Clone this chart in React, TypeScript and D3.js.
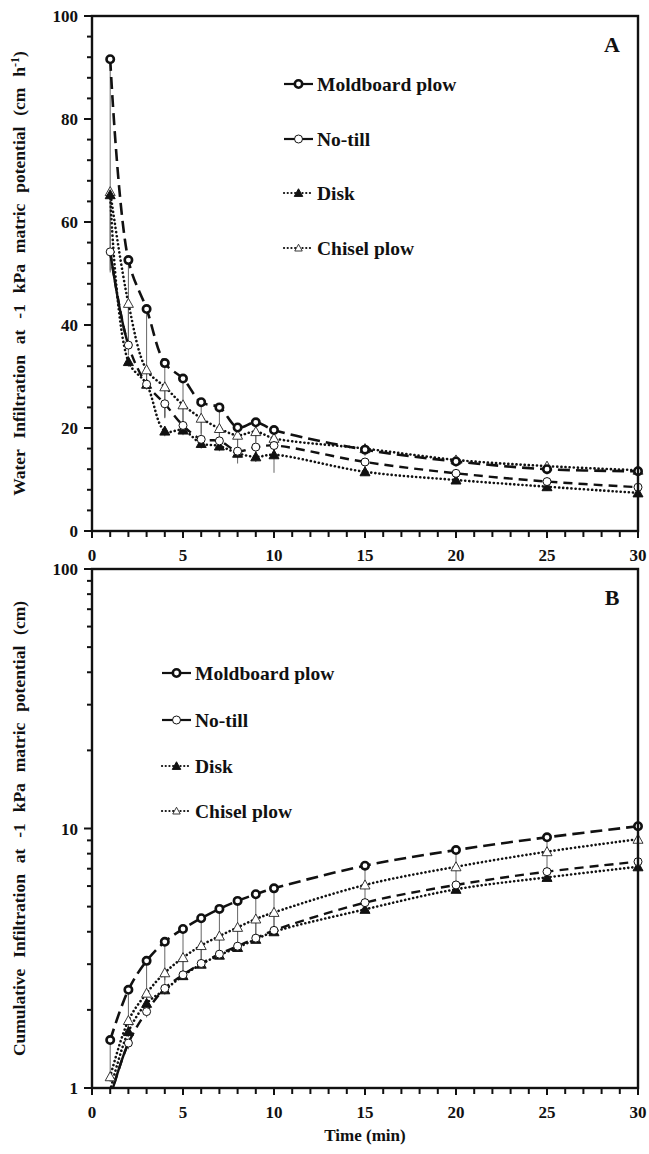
import React from "react";
import * as d3 from "d3";

const times = [1, 2, 3, 4, 5, 6, 7, 8, 9, 10, 15, 20, 25, 30];
const seriesNames = ["Moldboard plow", "No-till", "Disk", "Chisel plow"];

// Panel A: infiltration rate (cm h-1)
const rateMoldboard = [91.6, 52.6, 43.1, 32.6, 29.6, 25.0, 24.0, 20.1, 21.1, 19.6, 15.8, 13.5, 12.0, 11.6];
const rateNoTill = [54.2, 36.1, 28.5, 24.7, 20.5, 17.8, 17.5, 15.5, 16.3, 16.6, 13.4, 11.2, 9.6, 8.5];
const rateDisk = [65.3, 32.9, 28.5, 19.4, 19.6, 17.0, 16.5, 15.1, 14.4, 14.8, 11.5, 9.9, 8.6, 7.4];
const rateChisel = [65.9, 44.2, 31.3, 28.0, 24.5, 21.9, 19.9, 18.6, 19.3, 18.0, 16.0, 13.8, 12.6, 11.8];
const errMoldboardA = [41, 16, 14.4, 10.7, 9.3, 6.7, 6, 4, 4, 2.4, 1.2, 1, 1, 0.8];
const errNoTillA = [4, 2, 1, 2.5, 1.5, 1.5, 1.5, 1.5, 1.5, 1.5, 1, 0.8, 0.8, 0.6];
const errDiskA = [1, 1, 1, 1, 1, 1, 1, 2, 1, 3.5, 0.8, 0.8, 0.8, 0.8];
const errChiselA = [12, 8, 3, 6, 5, 3, 2.5, 2.5, 2, 2, 1, 1, 1, 1];

// Panel B: cumulative infiltration (cm)
const cumMoldboard = [1.53, 2.39, 3.09, 3.66, 4.1, 4.51, 4.9, 5.26, 5.58, 5.88, 7.19, 8.26, 9.25, 10.2];
const cumNoTill = [0.92, 1.49, 1.97, 2.42, 2.73, 3.02, 3.28, 3.52, 3.78, 4.05, 5.18, 6.06, 6.82, 7.45];
const cumDisk = [0.98, 1.65, 2.12, 2.39, 2.71, 3.0, 3.25, 3.48, 3.74, 4.0, 4.88, 5.83, 6.48, 7.12];
const cumChisel = [1.105, 1.82, 2.32, 2.78, 3.18, 3.54, 3.85, 4.16, 4.48, 4.75, 6.06, 7.12, 8.14, 9.09];
const errMoldboardB = [0.43, 0.6, 1.1, 1.06, 1.4, 1.5, 1.65, 1.8, 1.84, 1.9, 1.1, 1.1, 1.1, 1.1];
const errNoTillB = [0.05, 0.08, 0.1, 0.1, 0.1, 0.1, 0.1, 0.1, 0.1, 0.1, 0.15, 0.15, 0.15, 0.15];
const errDiskB = [0.05, 0.08, 0.1, 0.1, 0.1, 0.1, 0.1, 0.1, 0.1, 0.1, 0.15, 0.15, 0.15, 0.15];
const errChiselB = [0.05, 0.2, 0.35, 0.4, 0.45, 0.5, 0.55, 0.6, 0.6, 0.65, 0.9, 1.0, 1.2, 0.6];

const xTicks = [0, 5, 10, 15, 20, 25, 30];
const yTicksA = [0, 20, 40, 60, 80, 100];
const yTicksB = [1, 10, 100];

const FONT = "'Liberation Serif', 'Times New Roman', serif";

type Style = {
  dash: string;
  width: number;
  cap: "butt" | "round";
  marker: "boldCircle" | "circle" | "filledTri" | "openTri";
  solidHead?: boolean;
};
const styles: Style[] = [
  { dash: "12,6", width: 2.6, cap: "butt", marker: "boldCircle" },
  { dash: "9,6", width: 2.4, cap: "butt", marker: "circle", solidHead: true },
  { dash: "0.1,4", width: 2.6, cap: "round", marker: "filledTri" },
  { dash: "0.1,4", width: 2.6, cap: "round", marker: "openTri" },
];

function Marker({ kind, x, y, scale = 1 }: { kind: Style["marker"]; x: number; y: number; scale?: number }) {
  if (kind === "boldCircle")
    return <circle cx={x} cy={y} r={3.7 * scale} fill="#fff" stroke="#111" strokeWidth={2.6} />;
  if (kind === "circle")
    return <circle cx={x} cy={y} r={4 * scale} fill="#fff" stroke="#111" strokeWidth={1} />;
  const s = 5 * scale;
  const pts = `${x},${y - s} ${x + s},${y + s * 0.8} ${x - s},${y + s * 0.8}`;
  if (kind === "filledTri") return <polygon points={pts} fill="#111" stroke="#111" strokeWidth={1} />;
  return <polygon points={pts} fill="#fff" stroke="#222" strokeWidth={0.9} />;
}

const X0 = 92, X1 = 638;

function Panel({
  id, top, bottom, yScale, series, errs, yTicks, minorY, label, legendX, legendY, yTitle,
}: {
  id: string; top: number; bottom: number;
  yScale: any; series: number[][]; errs: number[][]; yTicks: number[]; minorY: number[];
  label: string; legendX: number; legendY: number[]; yTitle: React.ReactNode;
}) {
  const x = d3.scaleLinear().domain([0, 30]).range([X0, X1]);
  const y = yScale;
  const [d0, d1] = y.domain();
  const inRange = (v: number) => v >= Math.min(d0, d1) - 1e-9 && v <= Math.max(d0, d1) + 1e-9;
  const line = d3
    .line<number>()
    .x((_, i) => x(times[i]))
    .y((v) => y(v))
    .curve(d3.curveCatmullRom.alpha(0.5));
  const minorX = d3.range(0, 31, 1).filter((t) => t % 5 !== 0);
  const clipId = `clip-${id}`;
  const headClipId = `clip-head-${id}`;
  return (
    <g>
      <defs>
        <clipPath id={clipId}>
          <rect x={X0} y={top} width={X1 - X0} height={bottom - top} />
        </clipPath>
        <clipPath id={headClipId}>
          <rect x={X0} y={top} width={x(times[1]) - X0} height={bottom - top} />
        </clipPath>
      </defs>
      {/* error bars */}
      <g clipPath={`url(#${clipId})`}>
        {series.map((vals, si) =>
          vals.map((v, i) => {
            const lo = Math.max(v - errs[si][i], 1e-6);
            return (
              <line key={`e${si}-${i}`} x1={x(times[i])} x2={x(times[i])} y1={y(v)} y2={y(lo)} stroke="#666" strokeWidth={1} />
            );
          })
        )}
        {/* lines */}
        {series.map((vals, si) => (
          <path key={`l${si}`} d={line(vals) || ""} fill="none" stroke="#111" strokeWidth={styles[si].width}
            strokeDasharray={styles[si].dash} strokeLinecap={styles[si].cap} />
        ))}
        {series.map((vals, si) =>
          styles[si].solidHead ? (
            <path key={`h${si}`} d={line(vals) || ""} fill="none" stroke="#111" strokeWidth={styles[si].width}
              clipPath={`url(#${headClipId})`} />
          ) : null
        )}
      </g>
      {[3, 2, 1, 0].map((si) =>
        series[si].map((v, i) =>
          inRange(v) ? <Marker key={`m${si}-${i}`} kind={styles[si].marker} x={x(times[i])} y={y(v)} /> : null
        )
      )}
      {/* frame */}
      <rect x={X0} y={top} width={X1 - X0} height={bottom - top} fill="none" stroke="#111" strokeWidth={2.4} />
      {/* x ticks */}
      {xTicks.map((t) => (
        <g key={`xt${t}`}>
          <line x1={x(t)} x2={x(t)} y1={bottom} y2={bottom + 7} stroke="#111" strokeWidth={2} />
          <text x={x(t)} y={bottom + 30} textAnchor="middle" fontFamily={FONT} fontWeight="bold" fontSize={17} fill="#111">
            {t}
          </text>
        </g>
      ))}
      {minorX.map((t) => (
        <line key={`xm${t}`} x1={x(t)} x2={x(t)} y1={bottom} y2={bottom + 6} stroke="#111" strokeWidth={2} />
      ))}
      {/* y ticks */}
      {yTicks.map((v) => (
        <g key={`yt${v}`}>
          <line x1={X0 - 8} x2={X0} y1={y(v)} y2={y(v)} stroke="#111" strokeWidth={2} />
          <text x={X0 - 14} y={y(v) + 6} textAnchor="end" fontFamily={FONT} fontWeight="bold" fontSize={17} fill="#111">
            {v}
          </text>
        </g>
      ))}
      {minorY.map((v) => (
        <line key={`ym${v}`} x1={X0 - 5} x2={X0} y1={y(v)} y2={y(v)} stroke="#111" strokeWidth={2} />
      ))}
      {/* panel label */}
      <text x={612} y={top + 36} textAnchor="middle" fontFamily={FONT} fontWeight="bold" fontSize={22} fill="#111">
        {label}
      </text>
      {/* legend */}
      {seriesNames.map((n, si) => {
        const ly = legendY[si];
        return (
          <g key={`lg${si}`}>
            <line x1={legendX} x2={legendX + 29} y1={ly} y2={ly} stroke="#111"
              strokeWidth={2.2} strokeDasharray={si < 2 ? undefined : "0.1,3.6"} strokeLinecap={si < 2 ? "butt" : "round"} />
            <Marker kind={styles[si].marker} x={legendX + 14.5} y={ly} scale={si === 3 ? 0.75 : si === 2 ? 0.85 : 1} />
            <text x={legendX + 33} y={ly + 6.5} fontFamily={FONT} fontWeight="bold" fontSize={19.5} fill="#111">
              {n}
            </text>
          </g>
        );
      })}
      {/* y title */}
      <text transform={`translate(25,${(top + bottom) / 2}) rotate(-90)`} textAnchor="middle" fontFamily={FONT}
        fontWeight="bold" fontSize={17.5} wordSpacing={6.5} fill="#111">
        {yTitle}
      </text>
    </g>
  );
}

export default function App() {
  const yA = d3.scaleLinear().domain([0, 100]).range([531, 16]);
  const yB = d3.scaleLog().domain([1, 100]).range([1088, 569]);
  const minorA = d3.range(0, 101, 4).filter((v) => v % 20 !== 0);
  const minorB = [2, 3, 4, 5, 6, 7, 8, 9, 20, 30, 40, 50, 60, 70, 80, 90];
  return (
    <svg width={649} height={1154} style={{ position: "absolute", left: 0, top: 0, background: "#fff" }}>
      <rect width={649} height={1154} fill="#fff" />
      <Panel
        id="A" top={16} bottom={531} yScale={yA}
        series={[rateMoldboard, rateNoTill, rateDisk, rateChisel]}
        errs={[errMoldboardA, errNoTillA, errDiskA, errChiselA]}
        yTicks={yTicksA} minorY={minorA} label="A" legendX={284} legendY={[84, 139, 193, 248]}
        yTitle={<>Water Infiltration at -1 kPa matric potential (cm h<tspan dy={-6} fontSize={12}>-1</tspan><tspan dy={6}>)</tspan></>}
      />
      <Panel
        id="B" top={569} bottom={1088} yScale={yB}
        series={[cumMoldboard, cumNoTill, cumDisk, cumChisel]}
        errs={[errMoldboardB, errNoTillB, errDiskB, errChiselB]}
        yTicks={yTicksB} minorY={minorB} label="B" legendX={162} legendY={[673, 720, 766, 811]}
        yTitle={<>Cumulative Infiltration at -1 kPa matric potential (cm)</>}
      />
      <text x={365} y={1141} textAnchor="middle" fontFamily={FONT} fontWeight="bold" fontSize={17} fill="#111">
        Time (min)
      </text>
    </svg>
  );
}
